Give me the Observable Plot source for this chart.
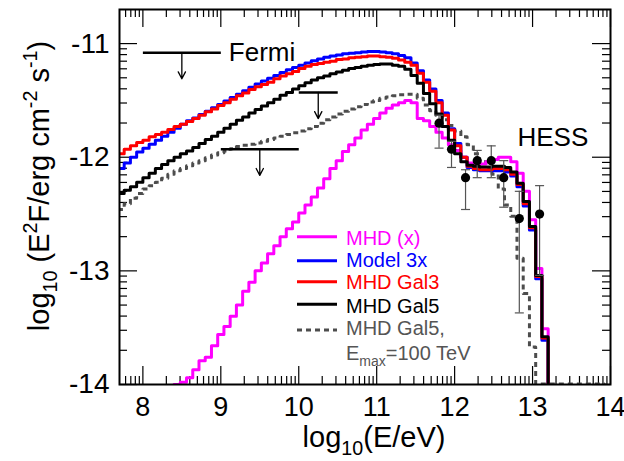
<!DOCTYPE html>
<html><head><meta charset="utf-8">
<script src="https://cdn.jsdelivr.net/npm/d3@7"></script>
<script src="https://cdn.jsdelivr.net/npm/@observablehq/plot@0.6"></script>
<style>
body{margin:0;background:#fff;}
#chart{width:624px;height:461px;}
</style></head><body><div id="chart"></div>
<script>
// ---------- data ----------
// histogram bin edges in log10(E/eV)
const binEdges = [7.68,7.76,7.84,7.92,8.00,8.08,8.16,8.24,8.32,8.40,8.48,8.56,8.64,8.72,8.80,8.88,8.96,9.04,9.12,9.20,
  9.28,9.36,9.44,9.52,9.60,9.68,9.76,9.84,9.92,10.00,10.08,10.16,10.24,10.32,10.40,10.48,10.56,10.64,10.72,10.80,
  10.88,10.96,11.04,11.12,11.20,11.28,11.36,11.44,11.52,11.60,11.68,11.76,11.84,11.92,12.00,12.08,12.16,12.24,12.32,12.40,
  12.48,12.56,12.64,12.72,12.80,12.88,12.96,13.04,13.12,13.20,13.28,13.36,13.44,13.52,13.60,13.68,13.76,13.84,13.92,14.00];

const mhdX = [-14.6,-14.6,-14.6,-14.6,-14.6,-14.6,-14.6,-14.6,-14.02,-14.00,
  -13.98,-13.94,-13.87,-13.79,-13.76,-13.66,-13.56,-13.49,-13.40,-13.30,
  -13.18,-13.10,-13.00,-12.93,-12.85,-12.78,-12.70,-12.63,-12.57,-12.49,
  -12.42,-12.35,-12.27,-12.19,-12.10,-12.03,-11.95,-11.89,-11.83,-11.76,
  -11.71,-11.66,-11.61,-11.57,-11.54,-11.52,-11.50,-11.52,-11.66,-11.68,
  -11.73,-11.78,-11.83,-11.89,-11.94,-12.00,-12.05,-12.08,-12.06,-12.04,
  -12.02,-12.00,-12.00,-12.04,-12.14,-12.30,-12.55,-12.98,-13.51];

const model3x = [-12.10,-12.05,-12.00,-11.955,-11.92,-11.885,-11.85,-11.815,-11.78,-11.745,
  -11.71,-11.68,-11.655,-11.625,-11.595,-11.565,-11.535,-11.505,-11.475,-11.445,
  -11.415,-11.385,-11.355,-11.33,-11.305,-11.28,-11.255,-11.23,-11.21,-11.19,
  -11.17,-11.15,-11.135,-11.12,-11.11,-11.10,-11.09,-11.085,-11.08,-11.075,
  -11.07,-11.07,-11.075,-11.08,-11.09,-11.105,-11.125,-11.17,-11.24,-11.32,
  -11.40,-11.50,-11.61,-11.75,-11.88,-12.00,-12.09,-12.11,-12.12,-12.12,
  -12.12,-12.12,-12.13,-12.165,-12.26,-12.43,-12.64,-13.07,-13.61];

const mhdGal3 = [-11.97,-11.93,-11.90,-11.87,-11.85,-11.82,-11.80,-11.78,-11.755,-11.73,
  -11.71,-11.685,-11.66,-11.63,-11.60,-11.575,-11.545,-11.52,-11.49,-11.46,
  -11.435,-11.405,-11.38,-11.36,-11.34,-11.31,-11.285,-11.265,-11.245,-11.22,
  -11.20,-11.185,-11.175,-11.165,-11.155,-11.14,-11.135,-11.125,-11.12,-11.115,
  -11.11,-11.11,-11.115,-11.12,-11.13,-11.145,-11.165,-11.19,-11.26,-11.34,
  -11.42,-11.52,-11.63,-11.76,-11.90,-12.00,-12.08,-12.10,-12.11,-12.11,
  -12.10,-12.10,-12.11,-12.15,-12.24,-12.41,-12.62,-13.05,-13.59];

const mhdGal5 = [-12.32,-12.29,-12.26,-12.22,-12.18,-12.14,-12.10,-12.065,-12.03,-12.00,
  -11.97,-11.945,-11.915,-11.88,-11.845,-11.815,-11.78,-11.745,-11.71,-11.675,
  -11.645,-11.61,-11.58,-11.55,-11.52,-11.49,-11.455,-11.43,-11.40,-11.37,
  -11.345,-11.32,-11.30,-11.285,-11.265,-11.25,-11.235,-11.22,-11.21,-11.20,
  -11.19,-11.185,-11.18,-11.18,-11.19,-11.20,-11.225,-11.28,-11.35,-11.44,
  -11.53,-11.62,-11.73,-11.85,-11.97,-12.04,-12.07,-12.08,-12.085,-12.085,
  -12.08,-12.08,-12.09,-12.13,-12.23,-12.39,-12.61,-13.04,-13.58];

const mhdGal5Emax = [-12.46,-12.41,-12.36,-12.32,-12.28,-12.25,-12.22,-12.185,-12.15,-12.12,
  -12.10,-12.075,-12.05,-12.03,-12.005,-11.98,-11.96,-11.945,-11.925,-11.905,
  -11.895,-11.885,-11.875,-11.86,-11.845,-11.83,-11.815,-11.80,-11.785,-11.77,
  -11.75,-11.73,-11.70,-11.67,-11.645,-11.62,-11.595,-11.575,-11.555,-11.535,
  -11.515,-11.50,-11.48,-11.47,-11.46,-11.45,-11.445,-11.445,-11.48,-11.54,
  -11.59,-11.63,-11.67,-11.72,-11.77,-11.82,-11.89,-11.97,-12.04,-12.09,
  -12.15,-12.28,-12.42,-12.52,-12.89,-13.20,-13.67,-13.995,-13.995,-13.995,
  -13.995,-13.995,-13.995,-13.995,-13.995,-13.995,-13.995,-13.995];

// HESS points
const hessE   = [11.80, 11.96, 12.14, 12.29, 12.47, 12.63, 12.83, 13.09];
const hessF   = [-11.70, -11.93, -12.18, -12.03, -12.03, -12.18, -12.54, -12.50];
const hessLo  = [-11.92, -12.09, -12.46, -12.18, -12.18, -12.44, -13.37, -13.04];
const hessHi  = [-11.63, -11.86, -12.11, -11.94, -11.90, -12.03, -12.30, -12.25];

// Fermi upper limits
const fermiLo = [8.0, 9.0, 10.0];
const fermiHi = [9.0, 10.0, 10.5];
const fermiUL = [-11.08, -11.93, -11.43];

// axes
const xTickLabels = [8, 9, 10, 11, 12, 13, 14];
const yTickLabels = [-14, -13, -12, -11];

// legend
const legendNames  = ["MHD (x)", "Model 3x", "MHD Gal3", "MHD Gal5", "MHD Gal5,"];
const legendColors = ["#ff00ff", "#0000ff", "#ff0000", "#000000", "#555555"];

// ---------- build ----------
const FLOOR = -15;
const ARROW = 0.23;
function histo(vals, name) {
  const pts = vals.map((v, i) => ({x: binEdges[i], y: v, s: name}));
  pts.push({x: binEdges[vals.length], y: FLOOR, s: name});
  return pts;
}
const hess = hessE.map((e, i) => ({x: e, y: hessF[i], lo: hessLo[i], hi: hessHi[i]}));
const hessCaps = hess.flatMap(d => [{x: d.x, y: d.lo}, {x: d.x, y: d.hi}]);
const fermi = fermiLo.map((a, i) => ({x1: a, x2: fermiHi[i], xm: (a + fermiHi[i]) / 2, y: fermiUL[i], y2: fermiUL[i] - ARROW}));

const xDom = [7.7, 14], yDom = [-14, -10.7];
const xMajor = d3.range(8, 15);
const yMajor = d3.range(-14, -10);
const xMinor = [], yMinor = [];
for (let n = 7; n <= 13; n++) for (let k = 2; k <= 9; k++) { const v = n + Math.log10(k); if (v > xDom[0] + 0.01 && v < xDom[1] - 0.01) xMinor.push(v); }
for (let n = -15; n <= -11; n++) for (let k = 2; k <= 9; k++) { const v = n + Math.log10(k); if (v > yDom[0] + 0.01 && v < yDom[1] - 0.01) yMinor.push(v); }

const W = 624, H = 461, mL = 119, mR = 14, mT = 9, mB = 77;
const fW = W - mL - mR, fH = H - mT - mB;
const MAJ = 18, MIN = 8;
const capSymbol = {draw(ctx) { ctx.moveTo(-4.5, 0); ctx.lineTo(4.5, 0); }};
const lineW = 3;

const plot = Plot.plot({
  width: W, height: H,
  marginLeft: mL, marginRight: mR, marginTop: mT, marginBottom: mB,
  style: {fontFamily: "'Liberation Sans', Arial, sans-serif", background: "white", color: "black", overflow: "visible"},
  x: {domain: xDom, label: null},
  y: {domain: yDom, label: null},
  marks: [
    Plot.axisX(xTickLabels, {tickSize: 0, tickPadding: 12, fontSize: 27, tickFormat: d => String(d), label: null}),
    Plot.axisY(yTickLabels, {tickSize: 0, tickPadding: 10, fontSize: 28, tickFormat: d => String(d), label: null}),
    // inward ticks on all four sides
    Plot.tickX(xMajor, {x: d => d, insetTop: fH - MAJ, strokeWidth: 1.2}),
    Plot.tickX(xMajor, {x: d => d, insetBottom: fH - MAJ, strokeWidth: 1.2}),
    Plot.tickX(xMinor, {x: d => d, insetTop: fH - MIN, strokeWidth: 1.2}),
    Plot.tickX(xMinor, {x: d => d, insetBottom: fH - MIN, strokeWidth: 1.2}),
    Plot.tickY(yMajor, {y: d => d, insetRight: fW - MAJ, strokeWidth: 1.2}),
    Plot.tickY(yMajor, {y: d => d, insetLeft: fW - MAJ, strokeWidth: 1.2}),
    Plot.tickY(yMinor, {y: d => d, insetRight: fW - MIN, strokeWidth: 1.2}),
    Plot.tickY(yMinor, {y: d => d, insetLeft: fW - MIN, strokeWidth: 1.2}),
    // model histograms
    Plot.line(histo(mhdGal5Emax, "g"), {x: "x", y: "y", curve: "step-after", stroke: "#4d4d4d", strokeWidth: lineW, strokeDasharray: "5,4", strokeLinecap: "butt", clip: true}),
    Plot.line(histo(mhdX, "m"), {x: "x", y: "y", curve: "step-after", stroke: "#ff00ff", strokeWidth: lineW, clip: true}),
    Plot.line(histo(model3x, "b"), {x: "x", y: "y", curve: "step-after", stroke: "#0000ff", strokeWidth: lineW, clip: true}),
    Plot.line(histo(mhdGal3, "r"), {x: "x", y: "y", curve: "step-after", stroke: "#ff0000", strokeWidth: lineW, clip: true}),
    Plot.line(histo(mhdGal5, "k"), {x: "x", y: "y", curve: "step-after", stroke: "#000000", strokeWidth: lineW, clip: true}),
    // Fermi upper limits
    Plot.link(fermi, {x1: "x1", x2: "x2", y1: "y", y2: "y", stroke: "black", strokeWidth: 2.6}),
    Plot.arrow(fermi, {x1: "xm", x2: "xm", y1: "y", y2: "y2", stroke: "black", strokeWidth: 1.3, headLength: 9, headAngle: 55}),
    Plot.text(["Fermi"], {x: fermiHi[0], y: fermiUL[0], dx: 8, textAnchor: "start", lineAnchor: "middle", fontSize: 26, fill: "black"}),
    // HESS
    Plot.ruleX(hess, {x: "x", y1: "lo", y2: "hi", stroke: "#555555", strokeWidth: 1.2}),
    Plot.dot(hessCaps, {x: "x", y: "y", symbol: capSymbol, stroke: "#555555", strokeWidth: 1.2, fill: "none"}),
    Plot.dot(hess, {x: "x", y: "y", r: 4.6, fill: "black", stroke: "none"}),
    Plot.text(["HESS"], {x: 13.26, y: -11.83, textAnchor: "middle", lineAnchor: "middle", fontSize: 26, fill: "black"}),
    Plot.frame({stroke: "black", strokeWidth: 2})
  ]
});
document.getElementById("chart").appendChild(plot);

// ---------- rich text (sub/superscripts) and legend ----------
const svg = d3.select(plot);
const FONT = "'Liberation Sans', Arial, sans-serif";
function richText(g, runs, fs, anchor) {
  const t = g.append("text").attr("font-family", FONT).attr("font-size", fs)
    .attr("text-anchor", anchor || "start").attr("fill", "black");
  let cur = 0;
  for (const r of runs) {
    const shift = r.shift || 0;
    const ts = t.append("tspan").text(r.t).attr("dy", (shift - cur) * fs);
    if (r.scale) ts.attr("font-size", fs * r.scale);
    cur = shift;
  }
  return t;
}
// x title
const gx = svg.append("g").attr("transform", "translate(374,447)");
richText(gx, [{t: "log"}, {t: "10", shift: 0.28, scale: 0.68}, {t: "(E/eV)", shift: 0}], 29, "middle");
// y title
const gy = svg.append("g").attr("transform", "translate(49,186) rotate(-90)");
richText(gy, [{t: "log"}, {t: "10", shift: 0.28, scale: 0.68}, {t: " (E", shift: 0}, {t: "2", shift: -0.4, scale: 0.68},
  {t: "F/erg cm", shift: 0}, {t: "-2", shift: -0.4, scale: 0.68}, {t: " s", shift: 0}, {t: "-1", shift: -0.4, scale: 0.68}, {t: ")", shift: 0}], 29, "middle");

// legend
const lineY = [236.7, 260.7, 281.7, 304.3, 330];
const textY = [245, 267, 288.5, 313, 335];
const gl = svg.append("g");
legendNames.forEach((name, i) => {
  gl.append("line").attr("x1", 297).attr("x2", 337).attr("y1", lineY[i]).attr("y2", lineY[i])
    .attr("stroke", i === 4 ? "#4d4d4d" : legendColors[i]).attr("stroke-width", 3)
    .attr("stroke-dasharray", i === 4 ? "5,4" : null);
  gl.append("text").attr("x", 346).attr("y", textY[i]).attr("font-family", FONT).attr("font-size", 20)
    .attr("text-anchor", "start").attr("fill", legendColors[i]).text(name);
});
const ge = gl.append("g").attr("transform", "translate(346,360)");
richText(ge, [{t: "E"}, {t: "max", shift: 0.3, scale: 0.7}, {t: "=100 TeV", shift: 0}], 20, "start").attr("fill", "#555555");
</script></body></html>
